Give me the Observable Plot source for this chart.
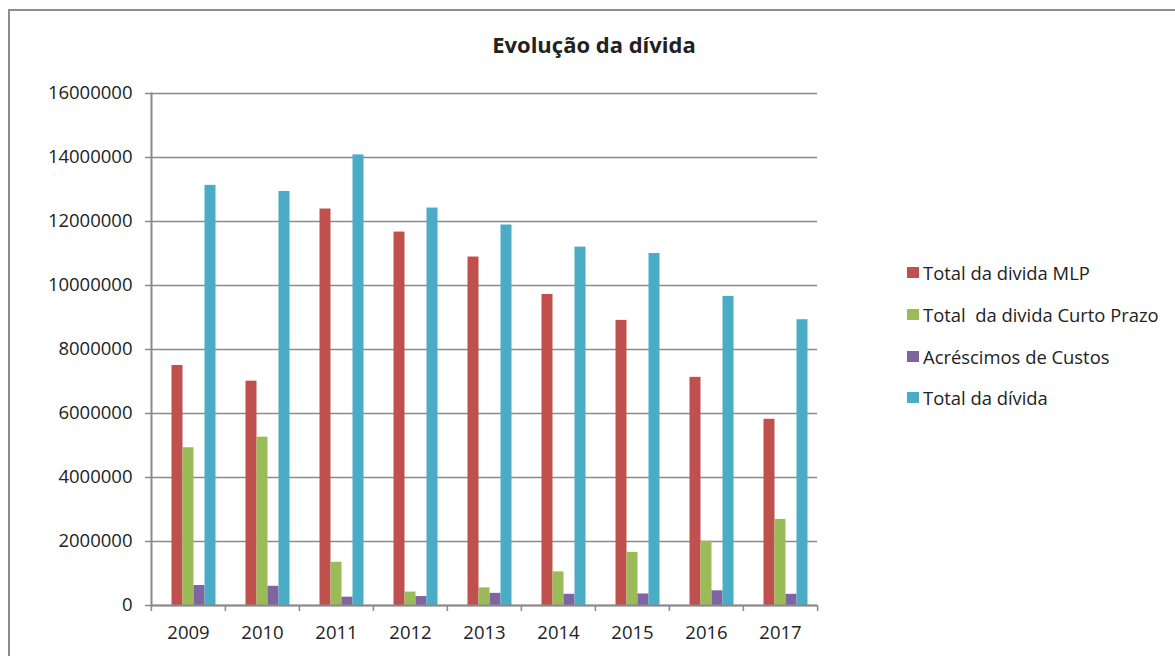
<!DOCTYPE html>
<html>
<head>
<meta charset="utf-8">
<script src="https://cdn.jsdelivr.net/npm/d3@7"></script>
<script src="https://cdn.jsdelivr.net/npm/@observablehq/plot@0.6"></script>
<style>
  html, body { margin: 0; padding: 0; background: #fff; }
  #wrap { position: relative; width: 1175px; height: 656px; overflow: hidden; font-family: "Open Sans", sans-serif; color: #222; }
  #border { position: absolute; left: 8px; top: 9px; width: 1200px; height: 700px; border-left: 2px solid #8c8c8c; border-top: 2px solid #8c8c8c; }
  #title { position: absolute; left: 0; width: 1188px; top: 29px; text-align: center; font-weight: 700; font-size: 22px; color: #222; }
  #chart { position: absolute; left: 0; top: 0; }
  #legend { position: absolute; left: 907px; top: 252px; font-size: 18.4px; }
  .item { display: flex; align-items: center; height: 41.7px; white-space: pre; }
  .sw { width: 12px; height: 11px; margin-right: 4px; flex: none; }
</style>
</head>
<body>
<div id="wrap">
  <div id="border"></div>
  <div id="title">Evolução da dívida</div>
  <div id="chart"></div>
  <div id="legend"></div>
</div>
<script>
const years = ["2009", "2010", "2011", "2012", "2013", "2014", "2015", "2016", "2017"];
const series = ["Total da divida MLP", "Total  da divida Curto Prazo", "Acréscimos de Custos", "Total da dívida"];
const colors = ["#C0504D", "#9BBB59", "#8064A2", "#4BACC6"];
const mlp    = [7500000, 7010000, 12390000, 11670000, 10890000, 9720000, 8910000, 7130000, 5820000];
const curto  = [4930000, 5260000, 1350000, 420000, 550000, 1050000, 1660000, 2010000, 2690000];
const acresc = [625000, 600000, 260000, 280000, 380000, 350000, 360000, 460000, 350000];
const total  = [13130000, 12940000, 14080000, 12420000, 11890000, 11200000, 11000000, 9660000, 8930000];
const yTicks = [0, 2000000, 4000000, 6000000, 8000000, 10000000, 12000000, 14000000, 16000000];

const valuesBySeries = [mlp, curto, acresc, total];
const data = [];
series.forEach((s, i) => years.forEach((y, j) => data.push({year: y, series: s, value: valuesBySeries[i][j]})));

// Excel layout keeps an empty first series slot (default gap width 150%)
const slots = [" ", ...series];
const grid = "#8a8a8a";
const W = 1175, H = 656, mL = 149.5, mR = 357.5;
const half = (W - mL - mR) / years.length / 2;

const chart = Plot.plot({
  width: W, height: H,
  marginLeft: mL, marginRight: mR, marginTop: 93, marginBottom: 51,
  style: {fontFamily: "Open Sans, sans-serif", fontSize: "18.5px", color: "#222", background: "transparent"},
  fx: {domain: years, padding: 0, axis: null, label: null},
  x: {domain: slots, paddingInner: 0, paddingOuter: 0.75, axis: null},
  y: {domain: [0, 16000000], axis: null, label: null},
  color: {domain: series, range: colors},
  marks: [
    Plot.gridY(yTicks, {stroke: grid, strokeOpacity: 1, strokeWidth: 1.5}),
    Plot.barY(data, {fx: "year", x: "series", y: "value", fill: "series", inset: 0}),
    Plot.ruleY([0], {stroke: grid, strokeWidth: 2}),
    Plot.frame({anchor: "left", facetAnchor: "left", stroke: grid, strokeWidth: 2}),
    Plot.axisY({ticks: yTicks, tickFormat: d3.format("d"), tickSize: 6, tickPadding: 13, stroke: grid, strokeWidth: 1.5, fill: "#222", label: null}),
    Plot.axisFx({anchor: "bottom", tickSize: 0, tickPadding: 20, fill: "#222", label: null}),
    Plot.axisFx({anchor: "bottom", tickSize: 6, tickFormat: () => "", dx: -half, stroke: grid, strokeWidth: 1.5, label: null}),
    Plot.axisFx({anchor: "bottom", ticks: [years[years.length - 1]], tickSize: 6, tickFormat: () => "", dx: half, stroke: grid, strokeWidth: 1.5, label: null})
  ]
});
document.getElementById("chart").appendChild(chart);

const legend = document.getElementById("legend");
series.forEach((s, i) => {
  const item = document.createElement("div");
  item.className = "item";
  const sw = document.createElement("span");
  sw.className = "sw";
  sw.style.background = colors[i];
  const t = document.createElement("span");
  t.textContent = s;
  item.appendChild(sw);
  item.appendChild(t);
  legend.appendChild(item);
});
</script>
</body>
</html>
